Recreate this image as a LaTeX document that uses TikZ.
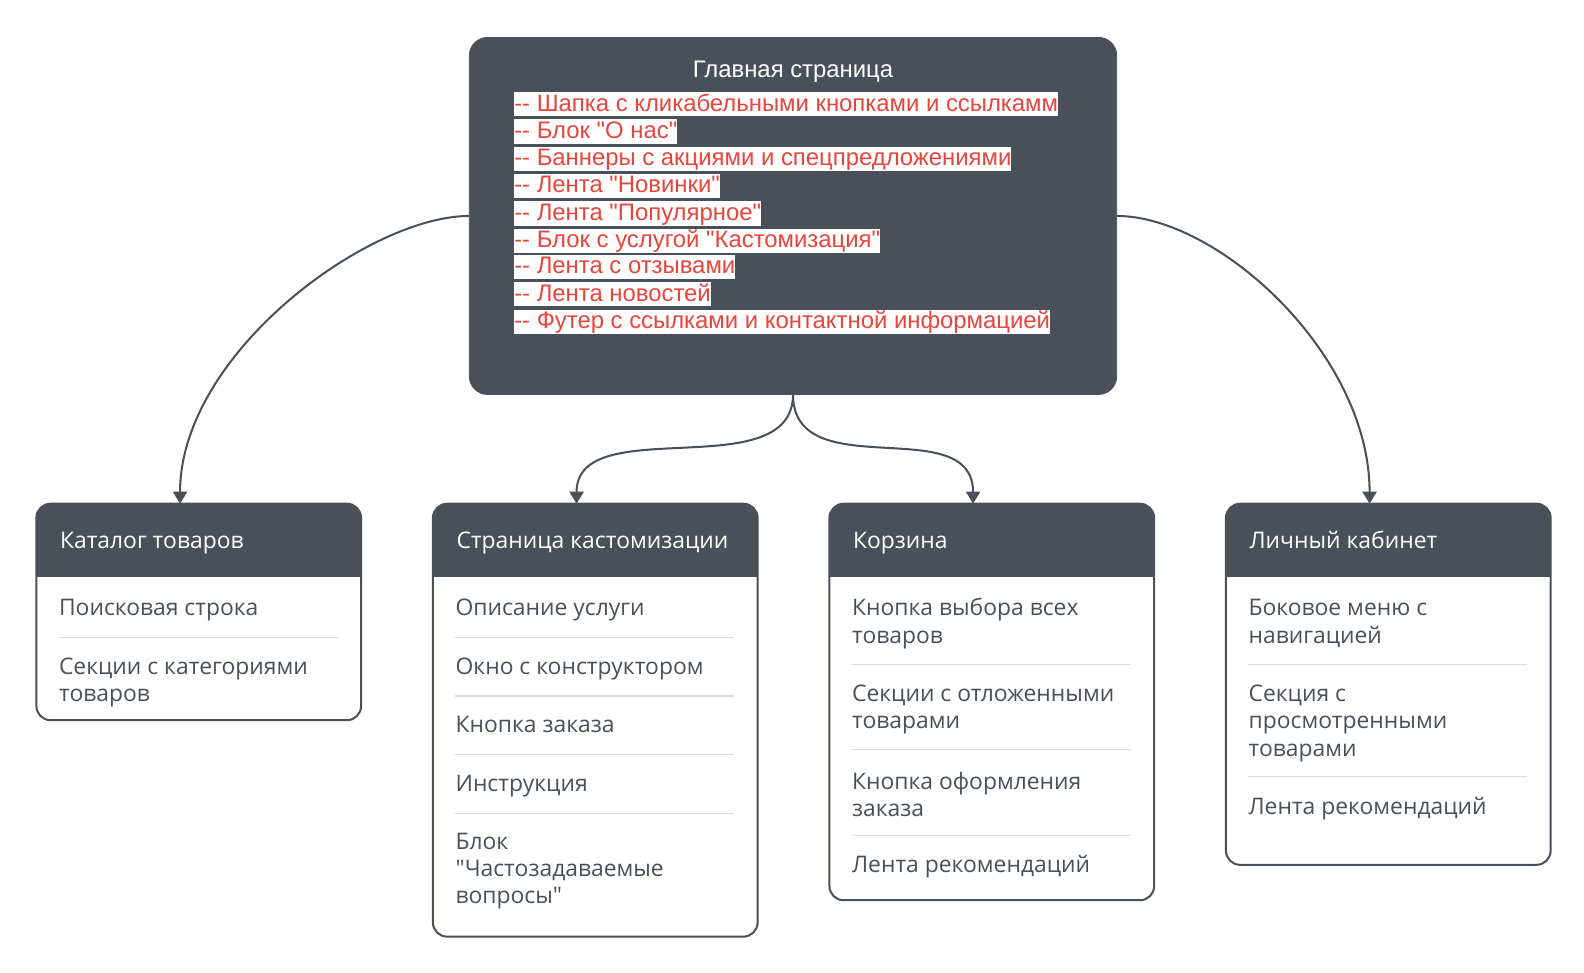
\documentclass[tikz,border=0pt]{standalone}
\usepackage{fontspec}
\setmainfont{Open Sans}[Ligatures=TeXOff]
\newfontfamily\topfont{Liberation Sans}[Ligatures=TeXOff]
\usetikzlibrary{arrows.meta}
\definecolor{slate}{HTML}{4A5059}
\definecolor{redtext}{HTML}{E8453C}
\definecolor{rulegray}{HTML}{DCDCDC}
\tikzstyle{mainbox} = [rectangle, rounded corners=9pt, minimum width=320pt, minimum height=176.5pt, fill=slate, draw=slate, outer sep=0pt]
\tikzstyle{frame} = [rectangle, rounded corners=7pt, minimum width=160.5pt, draw=slate, line width=1pt, fill=white, outer sep=0pt]
\tikzstyle{head} = [anchor=west, text=white, inner sep=0pt, text height=8.4pt, text depth=2.6pt, font=\fontsize{11.3}{13}\selectfont]
\tikzstyle{item} = [anchor=west, text=slate, align=left, inner sep=0pt, font=\fontsize{11.3}{13.5}\selectfont]
\tikzstyle{line} = [item, text height=8.4pt, text depth=2.6pt]
\tikzstyle{point} = [anchor=west, fill=white, text=redtext, inner xsep=0pt, inner ysep=0pt, text height=9.4pt, text depth=2.6pt, font=\topfont\fontsize{11.8}{13}\selectfont]
\tikzstyle{sep} = [draw=rulegray, line width=0.6pt]
\tikzstyle{arrow} = [line width=1pt, draw=slate, -{Triangle[width=7pt,length=6pt]}]

\begin{document}
\begin{tikzpicture}[x=0.5pt, y=-0.5pt]
\useasboundingbox (0,0) rectangle (1566,961);

%% MAIN PAGE

\node (main) [mainbox] at (784,213.5) {};
\node (main_title) [text=white, font=\topfont\fontsize{11.8}{13}\selectfont] at (784,71) {Главная страница};
\node (p1) [point] at (508,103) {-- Шапка с кликабельными кнопками и ссылкамм};
\node (p2) [point] at (508,130) {-- Блок "О нас"};
\node (p3) [point] at (508,157) {-- Баннеры с акциями и спецпредложениями\ };
\node (p4) [point] at (508,184) {-- Лента "Новинки"};
\node (p5) [point] at (508,211) {-- Лента "Популярное"};
\node (p6) [point] at (508,238) {-- Блок с услугой "Кастомизация"};
\node (p7) [point] at (508,264) {-- Лента с отзывами};
\node (p8) [point] at (508,291) {-- Лента новостей};
\node (p9) [point] at (508,318) {-- Футер с ссылками и контактной информацией};

%% FRAMES

\node (cat) [frame, minimum height=107pt] at (196.5,605) {};
\node (cust) [frame, minimum height=214pt] at (588.5,712) {};
\node (cart) [frame, minimum height=196pt] at (980.5,694) {};
\node (acc) [frame, minimum height=178.5pt] at (1372.5,676.5) {};

%% HEADERS

\begin{scope}
\clip [rounded corners=7pt] (cat.south west) rectangle (cat.north east);
\fill [slate] (cat.north west) rectangle (357,570);
\end{scope}
\begin{scope}
\clip [rounded corners=7pt] (cust.south west) rectangle (cust.north east);
\fill [slate] (cust.north west) rectangle (749,570);
\end{scope}
\begin{scope}
\clip [rounded corners=7pt] (cart.south west) rectangle (cart.north east);
\fill [slate] (cart.north west) rectangle (1141,570);
\end{scope}
\begin{scope}
\clip [rounded corners=7pt] (acc.south west) rectangle (acc.north east);
\fill [slate] (acc.north west) rectangle (1533,570);
\end{scope}

\node (cat_head) [head] at (59,536) {Каталог товаров};
\node (cust_head) [head] at (451,536) {Страница кастомизации};
\node (cart_head) [head] at (843,536) {Корзина};
\node (acc_head) [head] at (1235,536) {Личный кабинет};

%% ITEMS

\node (cat1) [line] at (58,603) {Поисковая строка};
\node (cat2) [item] at (58,674.5) {Секции с категориями\\товаров};
\draw [sep] (58,630) -- (334,630);

\node (cust1) [line] at (450,603) {Описание услуги};
\node (cust2) [line] at (450,661) {Окно с конструктором};
\node (cust3) [line] at (450,718) {Кнопка заказа};
\node (cust4) [line] at (450,777) {Инструкция};
\node (cust5) [item] at (450,861) {Блок\\"Частозадаваемые\\вопросы"};
\draw [sep] (450,630) -- (726,630);
\draw [sep] (450,688) -- (726,688);
\draw [sep] (450,746) -- (726,746);
\draw [sep] (450,804) -- (726,804);

\node (cart1) [item] at (842,616.5) {Кнопка выбора всех\\товаров};
\node (cart2) [item] at (842,701.5) {Секции с отложенными\\товарами};
\node (cart3) [item] at (842,785.5) {Кнопка оформления\\заказа};
\node (cart4) [line] at (842,857) {Лента рекомендаций};
\draw [sep] (842,657) -- (1118,657);
\draw [sep] (842,741) -- (1118,741);
\draw [sep] (842,826) -- (1118,826);

\node (acc1) [item] at (1234,616.5) {Боковое меню с\\навигацией};
\node (acc2) [item] at (1234,715) {Секция с\\просмотренными\\товарами};
\node (acc3) [line] at (1234,799) {Лента рекомендаций};
\draw [sep] (1234,657) -- (1510,657);
\draw [sep] (1234,768) -- (1510,768);

%% ARROWS

\draw [arrow] (main.west) .. controls +(-100,0) and +(0,-148) .. ([xshift=-9.25pt]cat.north);
\draw [arrow] (main.east) .. controls +(100,0) and +(0,-148) .. ([xshift=-9.25pt]acc.north);
\draw [arrow] (main.south) .. controls +(0,92) and +(0,-92) .. ([xshift=-9.25pt]cust.north);
\draw [arrow] (main.south) .. controls +(0,92) and +(0,-92) .. ([xshift=-9.25pt]cart.north);

\end{tikzpicture}
\end{document}
